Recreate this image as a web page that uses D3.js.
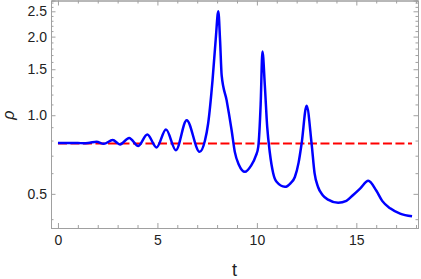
<!DOCTYPE html>
<html>
<head>
<meta charset="utf-8">
<script src="https://cdn.jsdelivr.net/npm/d3@7"></script>
<style>
  body { margin: 0; background: #fff; }
  text { font-family: "Liberation Sans", Arial, sans-serif; }
</style>
</head>
<body>
<div id="chart"></div>
<script>
// time samples and density
const tValues = [0, 0.5, 1.0, 1.3, 1.6, 1.94, 2.3, 2.75, 3.12, 3.58, 4.04, 4.49, 4.96, 5.43, 5.93, 6.47,
  7.12, 7.39, 7.55, 7.77, 7.93, 8.06, 8.15, 8.23, 8.48, 8.73, 8.89, 9.1, 9.4, 9.7, 9.95,
  10.07, 10.19, 10.28, 10.4, 10.52, 10.65, 10.82, 10.99, 11.41, 11.7, 11.91, 12.1, 12.25, 12.5,
  12.75, 12.9, 13.08, 13.3, 13.58, 14.09, 14.5, 14.84, 15.2, 15.6, 16.0, 16.3, 16.7, 17.2, 17.8];
const rhoValues = [0.782, 0.782, 0.783, 0.781, 0.785, 0.791, 0.777, 0.803, 0.773, 0.819, 0.763, 0.844, 0.753, 0.882, 0.735, 0.957,
  0.724, 0.80, 0.93, 1.36, 1.95, 2.50, 1.93, 1.42, 1.14, 0.876, 0.724, 0.645, 0.607, 0.64, 0.70,
  0.757, 1.10, 1.756, 1.30, 0.90, 0.72, 0.60, 0.556, 0.532, 0.55, 0.58, 0.66, 0.78, 1.087,
  0.78, 0.60, 0.53, 0.495, 0.475, 0.462, 0.47, 0.495, 0.525, 0.561, 0.515, 0.47, 0.44, 0.42, 0.41];
const rhoRef = 0.78;
const refRange = [0, 17.8];

const xTicks = [0, 5, 10, 15];
const yTicks = [0.5, 1.0, 1.5, 2.0, 2.5];
const yTickLabels = ["0.5", "1.0", "1.5", "2.0", "2.5"];
const xLabel = "t";
const yLabel = "ρ";

const width = 421;
const height = 279;
const plotLeft = 51;
const plotRight = 418;
const plotTop = 0.5;
const plotBottom = 228;
const frameColor = "#a0a0a0";

const svg = (
    d3.select("#chart")
    .append("svg")
    .attr("width", width)
    .attr("height", height)
);

const xScale = d3.scaleLinear().domain([-0.35, 18.1]).range([plotLeft, plotRight]);
const yScale = d3.scaleLog().domain([0.37, 2.75]).range([plotBottom, plotTop]);

const xMinor = d3.range(0, 19).filter((d) => d % 5 !== 0);
const yMinor = d3.range(4, 28).map((d) => d / 10).filter((d) => !yTicks.some((m) => Math.abs(m - d) < 1e-9));

function styleAxis(g) {
    g.selectAll(".domain").attr("stroke", frameColor);
    g.selectAll(".tick line").attr("stroke", frameColor);
    g.selectAll(".tick text").attr("fill", "#222").style("font-size", "14px");
}

// bottom
svg.append("g")
    .attr("transform", `translate(0, ${plotBottom})`)
    .call(d3.axisBottom(xScale).tickValues(xTicks).tickSize(-5).tickPadding(7).tickFormat(d3.format("d")))
    .call(styleAxis);
svg.append("g")
    .attr("transform", `translate(0, ${plotBottom})`)
    .call(d3.axisBottom(xScale).tickValues(xMinor).tickSize(-3).tickFormat(""))
    .call(styleAxis);
// top
svg.append("g")
    .attr("transform", `translate(0, ${plotTop})`)
    .call(d3.axisTop(xScale).tickValues(xTicks).tickSize(-5).tickFormat(""))
    .call(styleAxis);
svg.append("g")
    .attr("transform", `translate(0, ${plotTop})`)
    .call(d3.axisTop(xScale).tickValues(xMinor).tickSize(-3).tickFormat(""))
    .call(styleAxis);
// left
svg.append("g")
    .attr("transform", `translate(${plotLeft}, 0)`)
    .call(d3.axisLeft(yScale).tickValues(yTicks).tickSize(-4.5).tickPadding(4).tickFormat((d, i) => yTickLabels[i]))
    .call(styleAxis);
svg.append("g")
    .attr("transform", `translate(${plotLeft}, 0)`)
    .call(d3.axisLeft(yScale).tickValues(yMinor).tickSize(-2.5).tickFormat(""))
    .call(styleAxis);
// right
svg.append("g")
    .attr("transform", `translate(${plotRight}, 0)`)
    .call(d3.axisRight(yScale).tickValues(yTicks).tickSize(-4.5).tickFormat(""))
    .call(styleAxis);
svg.append("g")
    .attr("transform", `translate(${plotRight}, 0)`)
    .call(d3.axisRight(yScale).tickValues(yMinor).tickSize(-2.5).tickFormat(""))
    .call(styleAxis);

// reference level
svg.append("line")
    .attr("x1", xScale(refRange[0]))
    .attr("x2", xScale(refRange[1]))
    .attr("y1", yScale(rhoRef))
    .attr("y2", yScale(rhoRef))
    .attr("stroke", "#ff0000")
    .attr("stroke-width", 2)
    .attr("stroke-dasharray", "9,3.5");

const line = (
    d3.line()
    .x((d, i) => xScale(tValues[i]))
    .y((d) => yScale(d))
    .curve(d3.curveMonotoneX)
);
svg.append("path")
    .datum(rhoValues)
    .attr("d", line)
    .attr("fill", "none")
    .attr("stroke", "#0000ff")
    .attr("stroke-width", 2.5)
    .attr("stroke-linejoin", "round");

// axis labels
svg.append("text")
    .attr("x", (plotLeft + plotRight) / 2)
    .attr("y", 276)
    .attr("text-anchor", "middle")
    .attr("fill", "#222")
    .style("font-size", "18px")
    .text(xLabel);
svg.append("text")
    .attr("transform", `translate(14, ${yScale(1.0)}) rotate(-90)`)
    .attr("text-anchor", "middle")
    .attr("fill", "#222")
    .style("font-size", "16px")
    .style("font-style", "italic")
    .text(yLabel);
</script>
</body>
</html>
